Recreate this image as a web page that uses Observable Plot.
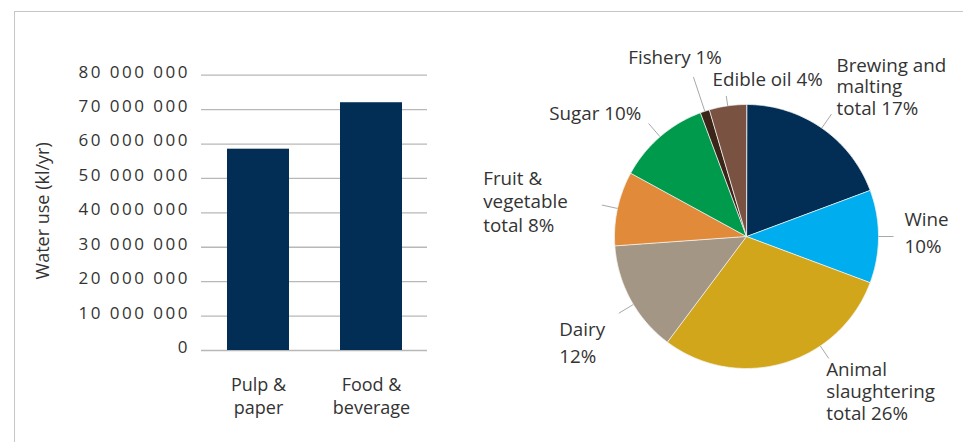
<!DOCTYPE html>
<html><head><meta charset="utf-8">
<script src="https://cdn.jsdelivr.net/npm/d3@7"></script>
<script src="https://cdn.jsdelivr.net/npm/@observablehq/plot@0.6"></script>
<style>
body{margin:0;background:#fff;}
#wrap{position:relative;width:963px;height:442px;overflow:hidden;font-family:"Open Sans",sans-serif;}
#frame{position:absolute;left:14px;top:11px;right:-5px;bottom:-5px;border-top:1.3px solid #c6c6c6;border-left:1.3px solid #c6c6c6;}
#bar{position:absolute;left:0;top:0;}
#pie{position:absolute;left:480px;top:0;}
#bar g[aria-label="y-axis tick label"] text{letter-spacing:2.5px;}
</style></head><body>
<div id="wrap"><div id="frame"></div><div id="bar"></div><div id="pie"></div></div>
<script>
// ---- data ----
const industries = ["Pulp &\npaper", "Food &\nbeverage"];
const waterUse = [58500000, 72000000];
const yTicks = [0, 10000000, 20000000, 30000000, 40000000, 50000000, 60000000, 70000000, 80000000];
const yLabel = "Water use (kl/yr)";

const sectors = ["Brewing and malting", "Wine", "Animal slaughtering", "Dairy", "Fruit & vegetable", "Sugar", "Fishery", "Edible oil"];
const sectorShares = [17, 10, 26, 12, 8, 10, 1, 4];
const sectorLabelStems = ["Brewing and\nmalting\ntotal ", "Wine\n", "Animal\nslaughtering\ntotal ", "Dairy\n", "Fruit &\nvegetable\ntotal ", "Sugar ", "Fishery ", "Edible oil "];
const sectorColors = ["#022d54", "#00adee", "#d2a61b", "#a49684", "#e18a39", "#009a4d", "#3a2518", "#7a5242"];

// ---- bar chart ----
const barData = industries.map((k, i) => ({industry: k, value: waterUse[i]}));
const fmt = d => d3.format(",")(d).replace(/,/g, " ");
const textColor = "#333";

const bar = Plot.plot({
  width: 480, height: 442,
  marginLeft: 201, marginRight: 53, marginTop: 74.7, marginBottom: 92,
  style: {fontFamily: "Open Sans, sans-serif", fontSize: "17px", color: textColor, background: "transparent", overflow: "visible"},
  x: {domain: industries, paddingInner: 0.454, paddingOuter: 0.227},
  y: {domain: [0, 80000000]},
  marks: [
    Plot.ruleY(yTicks, {stroke: "#b8b8b8", strokeWidth: 1.3}),
    Plot.barY(barData, {x: "industry", y: "value", fill: "#022d54"}),
    Plot.axisY(yTicks, {tickSize: 0, tickPadding: 11.5, tickFormat: fmt, fontSize: 17, dy: -3, label: null, fill: textColor}),
    Plot.axisX({tickSize: 0, tickPadding: 23, fontSize: 18, lineHeight: 1.33, label: null, fill: textColor}),
    Plot.text([yLabel], {frameAnchor: "left", dx: -158, dy: -2, rotate: -90, textAnchor: "middle", fontSize: 18, fill: textColor, text: d => d})
  ]
});
document.getElementById("bar").appendChild(bar);

// ---- pie chart ----
const cx = 266, cy = 236, R = 132;
const arcs = d3.pie().sort(null).value(d => d)(sectorShares);
const slicePts = [];
arcs.forEach((a, i) => {
  const n = Math.max(2, Math.ceil((a.endAngle - a.startAngle) / (Math.PI / 360)));
  slicePts.push({sector: sectors[i], x: cx, y: cy});
  for (let k = 0; k <= n; k++) {
    const t = a.startAngle + (a.endAngle - a.startAngle) * k / n;
    slicePts.push({sector: sectors[i], x: cx + R * Math.sin(t), y: cy - R * Math.cos(t)});
  }
});

// label layout (pixel positions inside the pie panel)
const labelFont = 18.8;
const labelLayout = [
  {x: 356, y: 86, lh: 21.7, len: 17},
  {x: 424, y: 230.2, lh: 27, len: 15},
  {x: 345.7, y: 390.7, lh: 21.7, len: 15, angle: 146},
  {x: 78.7, y: 340.3, lh: 27.3, len: 17, angle: 239},
  {x: 2.7, y: 200.4, lh: 23.7, len: 16},
  {x: 68.7, y: 113, lh: 21.7, len: 17.5},
  {x: 147.7, y: 56.7, lh: 21.7, len: 36},
  {x: 232, y: 79, lh: 21.7, len: 10}
];
const leaders = arcs.map((a, i) => {
  const L = labelLayout[i];
  const t = L.angle != null ? L.angle * Math.PI / 180 : (a.startAngle + a.endAngle) / 2;
  return {
    x1: cx + R * Math.sin(t), y1: cy - R * Math.cos(t),
    x2: cx + (R + L.len) * Math.sin(t), y2: cy - (R + L.len) * Math.cos(t)
  };
});
const labelMarks = sectors.map((s, i) => {
  const L = labelLayout[i];
  return Plot.text([{t: sectorLabelStems[i] + sectorShares[i] + "%"}], {
    x: () => L.x, y: () => L.y, text: "t", textAnchor: "start", lineAnchor: "middle",
    lineHeight: L.lh / labelFont, fontSize: labelFont, fill: textColor
  });
});

const pie = Plot.plot({
  width: 483, height: 442,
  margin: 0,
  style: {fontFamily: "Open Sans, sans-serif", fontSize: "18px", color: textColor, background: "transparent", overflow: "visible"},
  x: {domain: [0, 483], range: [0, 483], axis: null},
  y: {domain: [0, 442], range: [0, 442], axis: null},
  color: {domain: sectors, range: sectorColors},
  marks: [
    Plot.line(slicePts, {x: "x", y: "y", z: "sector", fill: "sector", stroke: "#f4f4f4", strokeWidth: 0.8, curve: "linear-closed"}),
    Plot.link(leaders, {x1: "x1", y1: "y1", x2: "x2", y2: "y2", stroke: "#a8a8a8", strokeWidth: 1}),
    ...labelMarks
  ]
});
document.getElementById("pie").appendChild(pie);
</script>
</body></html>
